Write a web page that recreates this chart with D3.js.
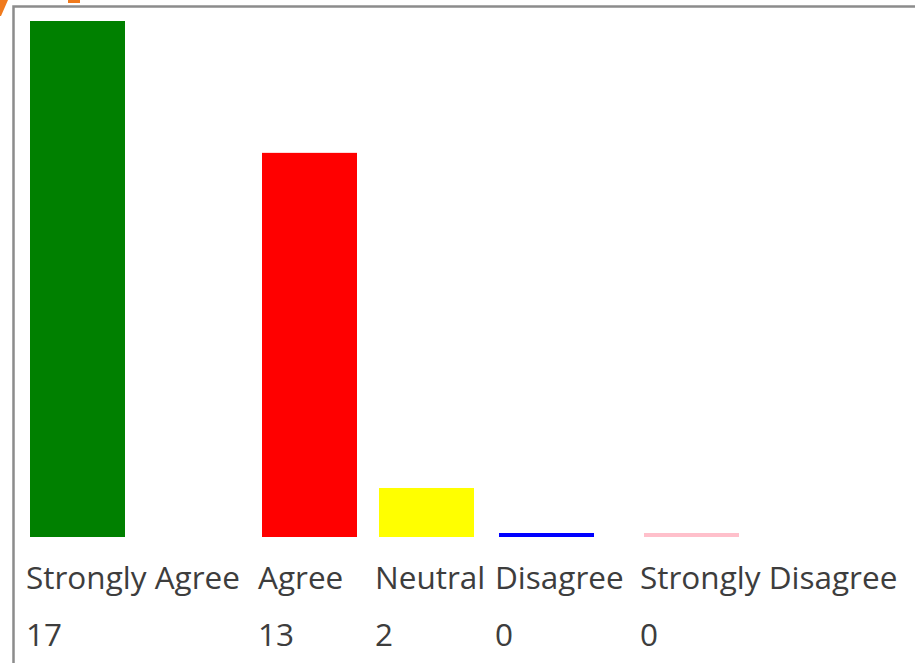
<!DOCTYPE html>
<html>
<head>
<meta charset="utf-8">
<script src="https://cdn.jsdelivr.net/npm/d3@7.9.0/dist/d3.min.js"></script>
<style>
  body { margin: 0; background: #fff; }
  svg { display: block; }
</style>
</head>
<body>
<div id="chart"></div>
<script>
// survey answers
const categories = ['Strongly Agree', 'Agree', 'Neutral', 'Disagree', 'Strongly Disagree'];
const counts = [17, 13, 2, 0, 0];
const colors = ['#008000', '#ff0000', '#ffff00', '#0000ff', '#ffc0cb'];

const width = 915;
const height = 663;
const baseline = 537;
const barWidth = 95;
const minBar = 4;

const svg = d3
  .select('#chart')
  .append('svg')
  .attr('width', width)
  .attr('height', height);

// bits of the orange heading cut off above the box
svg.append('path').attr('d', 'M0,0 L8,0 L1,16 L0,16 Z').attr('fill', '#f07a1c');
svg.append('rect').attr('x', 68).attr('y', 0).attr('width', 12).attr('height', 3).attr('fill', '#f07a1c');

// box border
svg
  .append('rect')
  .attr('x', 13.5)
  .attr('y', 6.5)
  .attr('width', width + 20)
  .attr('height', height + 20)
  .attr('fill', 'none')
  .attr('stroke', '#8c8c8c')
  .attr('stroke-width', 2.5);

// columns are table cells, so their starts are uneven
const xScale = d3.scaleOrdinal().domain(categories).range([30, 262, 379, 499, 644]);

const yScale = d3
  .scalePow()
  .exponent(1.1)
  .domain([0, d3.max(counts)])
  .range([0, baseline - 21]);

const color = d3.scaleOrdinal().domain(categories).range(colors);

const rows = categories.map((c, i) => ({ category: c, count: counts[i] }));

svg
  .append('g')
  .selectAll('rect')
  .data(rows)
  .join('rect')
  .attr('x', (d) => xScale(d.category))
  .attr('width', barWidth)
  .attr('y', (d) => baseline - Math.max(yScale(d.count), minBar))
  .attr('height', (d) => Math.max(yScale(d.count), minBar))
  .attr('fill', (d) => color(d.category));

const font = "'Open Sans', 'Noto Sans', sans-serif";

svg
  .append('g')
  .selectAll('text')
  .data(rows)
  .join('text')
  .attr('x', (d) => xScale(d.category) - 4)
  .attr('y', 589)
  .attr('font-family', font)
  .attr('font-size', 31.5)
  .attr('fill', '#3d3d3d')
  .text((d) => d.category);

svg
  .append('g')
  .selectAll('text')
  .data(rows)
  .join('text')
  .attr('x', (d) => xScale(d.category) - 4)
  .attr('y', 646)
  .attr('font-family', font)
  .attr('font-size', 31.5)
  .attr('fill', '#3d3d3d')
  .text((d) => d.count);
</script>
</body>
</html>
